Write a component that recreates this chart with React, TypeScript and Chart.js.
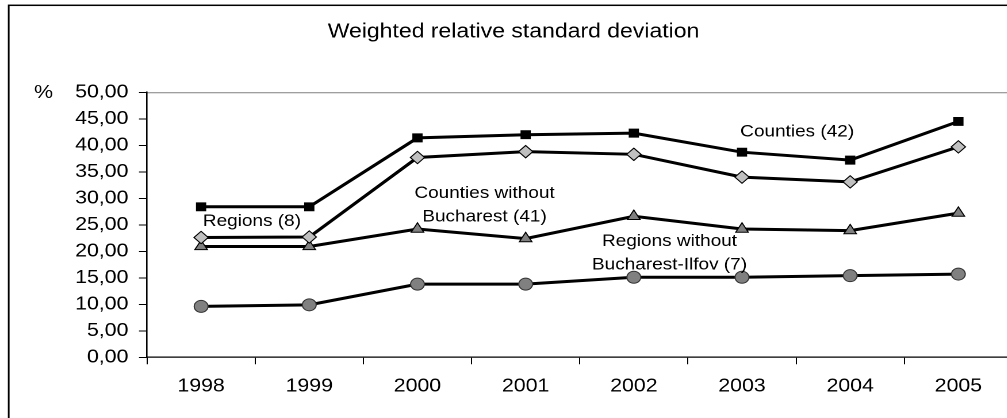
import React, { useEffect, useRef } from "react";
import { Chart, registerables } from "chart.js";

Chart.register(...registerables);

// ---------- data ----------
const categories = ["1998", "1999", "2000", "2001", "2002", "2003", "2004", "2005"];
const countiesAll = [28.4, 28.4, 41.4, 42.0, 42.3, 38.7, 37.2, 44.5];
const countiesNoBucharest = [22.6, 22.7, 37.7, 38.8, 38.3, 34.0, 33.1, 39.7];
const regionsAll = [20.9, 20.9, 24.2, 22.4, 26.6, 24.2, 23.9, 27.2];
const regionsNoBucharestIlfov = [9.6, 9.9, 13.8, 13.8, 15.1, 15.1, 15.4, 15.7];
const yMin = 0;
const yMax = 50;
const yStep = 5;
const titleText = "Weighted relative standard deviation";
const yUnit = "%";
const labelTexts = [
  ["Regions (8)"],
  ["Counties (42)"],
  ["Counties without", "Bucharest (41)"],
  ["Regions without", "Bucharest-Ilfov (7)"],
];
// anchor of each label: [category index (fractional), value]
const labelAnchors = [
  [0.47, 24.8],
  [5.51, 41.7],
  [2.62, 30.05],
  [4.33, 21.0],
];

// ---------- layout (styles) ----------
const S = 1.15; // horizontal stretch of the original picture
const W = 900;
const H = 418;
const FONT = "'Liberation Sans', Arial, Helvetica, sans-serif";

const decorPlugin = {
  id: "decor",
  beforeDraw(chart: any) {
    const ctx = chart.ctx;
    ctx.save();
    ctx.fillStyle = "#fff";
    ctx.fillRect(0, 0, chart.width, chart.height);
    // outer frame
    ctx.strokeStyle = "#000";
    ctx.lineWidth = 1.5;
    ctx.strokeRect(8.7 / S, 5.3, W + 20, H + 20);
    // title
    ctx.fillStyle = "#000";
    ctx.font = `20px ${FONT}`;
    ctx.textAlign = "center";
    ctx.textBaseline = "alphabetic";
    ctx.fillText(titleText, 513.5 / S, 37.3);
    // unit
    ctx.font = `18.5px ${FONT}`;
    ctx.fillText(yUnit, 43.5 / S, 98);
    // plot area border (top / right) in gray
    const a = chart.chartArea;
    ctx.strokeStyle = "#808080";
    ctx.lineWidth = 1;
    ctx.beginPath();
    ctx.moveTo(a.left, a.top + 0.5);
    ctx.lineTo(a.right, a.top + 0.5);
    ctx.lineTo(a.right, a.bottom);
    ctx.stroke();
    ctx.restore();
  },
  afterDraw(chart: any) {
    const ctx = chart.ctx;
    const xs = chart.scales.x;
    const ys = chart.scales.y;
    const x0 = xs.getPixelForValue(0);
    const step = xs.getPixelForValue(1) - x0;
    ctx.save();
    ctx.fillStyle = "#000";
    ctx.font = `16.5px ${FONT}`;
    ctx.textAlign = "center";
    ctx.textBaseline = "alphabetic";
    labelTexts.forEach((lines, k) => {
      const [idx, val] = labelAnchors[k];
      const x = x0 + idx * step;
      const y = ys.getPixelForValue(val);
      lines.forEach((line, i) => ctx.fillText(line, x, y + i * 23.5));
    });
    ctx.restore();
  },
};

function ChartView() {
  const ref = useRef<HTMLCanvasElement | null>(null);
  useEffect(() => {
    if (!ref.current) return;
    Chart.defaults.font.family = FONT;
    const chart = new Chart(ref.current, {
      type: "line",
      data: {
        labels: categories,
        datasets: [
          {
            label: "Counties (42)",
            data: countiesAll,
            borderColor: "#000",
            borderWidth: 3,
            pointStyle: "rect",
            pointRadius: 5.6,
            pointBackgroundColor: "#000",
            pointBorderColor: "#000",
            pointBorderWidth: 1,
            tension: 0,
          },
          {
            label: "Counties without Bucharest (41)",
            data: countiesNoBucharest,
            borderColor: "#000",
            borderWidth: 3,
            pointStyle: "rectRot",
            pointRadius: 6.2,
            pointBackgroundColor: "#c0c0c0",
            pointBorderColor: "#000",
            pointBorderWidth: 1,
            tension: 0,
          },
          {
            label: "Regions (8)",
            data: regionsAll,
            borderColor: "#000",
            borderWidth: 3,
            pointStyle: "triangle",
            pointRadius: 6.3,
            pointBackgroundColor: "#808080",
            pointBorderColor: "#000",
            pointBorderWidth: 1,
            tension: 0,
          },
          {
            label: "Regions without Bucharest-Ilfov (7)",
            data: regionsNoBucharestIlfov,
            borderColor: "#000",
            borderWidth: 3,
            pointStyle: "circle",
            pointRadius: 6,
            pointBackgroundColor: "#808080",
            pointBorderColor: "#333",
            pointBorderWidth: 1,
            tension: 0,
          },
        ],
      },
      options: {
        animation: false,
        responsive: false,
        devicePixelRatio: 2,
        events: [],
        layout: { padding: { left: 27.83, right: 19.6, top: 92.3, bottom: 10.7 } },
        plugins: {
          legend: { display: false },
          tooltip: { enabled: false },
          title: { display: false },
        },
        scales: {
          x: {
            type: "category",
            offset: true,
            grid: {
              offset: true,
              drawOnChartArea: false,
              drawTicks: true,
              tickLength: 7,
              color: "#000",
              lineWidth: 1,
            },
            border: { display: true, color: "#000", width: 1.3 },
            ticks: {
              color: "#000",
              font: { size: 18.5, family: FONT },
              padding: 11,
              maxRotation: 0,
              autoSkip: false,
            },
            afterFit: (s: any) => {
              s.height = 50;
            },
          },
          y: {
            type: "linear",
            min: yMin,
            max: yMax,
            grid: {
              drawOnChartArea: false,
              drawTicks: true,
              tickLength: 7,
              color: "#000",
              lineWidth: 1,
            },
            border: { display: true, color: "#000", width: 1.3 },
            ticks: {
              stepSize: yStep,
              color: "#000",
              font: { size: 18.5, family: FONT },
              padding: 9.2,
              callback: (v: any) => Number(v).toFixed(2).replace(".", ","),
            },
            afterFit: (s: any) => {
              s.width = 100;
            },
          },
        },
      },
      plugins: [decorPlugin],
    });
    return () => chart.destroy();
  }, []);
  return (
    <canvas
      ref={ref}
      width={W}
      height={H}
      style={{ width: W + "px", height: H + "px", display: "block" }}
    />
  );
}

export default function App() {
  return (
    <div
      style={{
        position: "fixed",
        left: 0,
        top: 0,
        width: "1007px",
        height: "418px",
        overflow: "hidden",
        background: "#fff",
      }}
    >
      <div
        style={{
          width: W + "px",
          height: H + "px",
          transform: `scaleX(${S})`,
          transformOrigin: "0 0",
        }}
      >
        <ChartView />
      </div>
    </div>
  );
}
